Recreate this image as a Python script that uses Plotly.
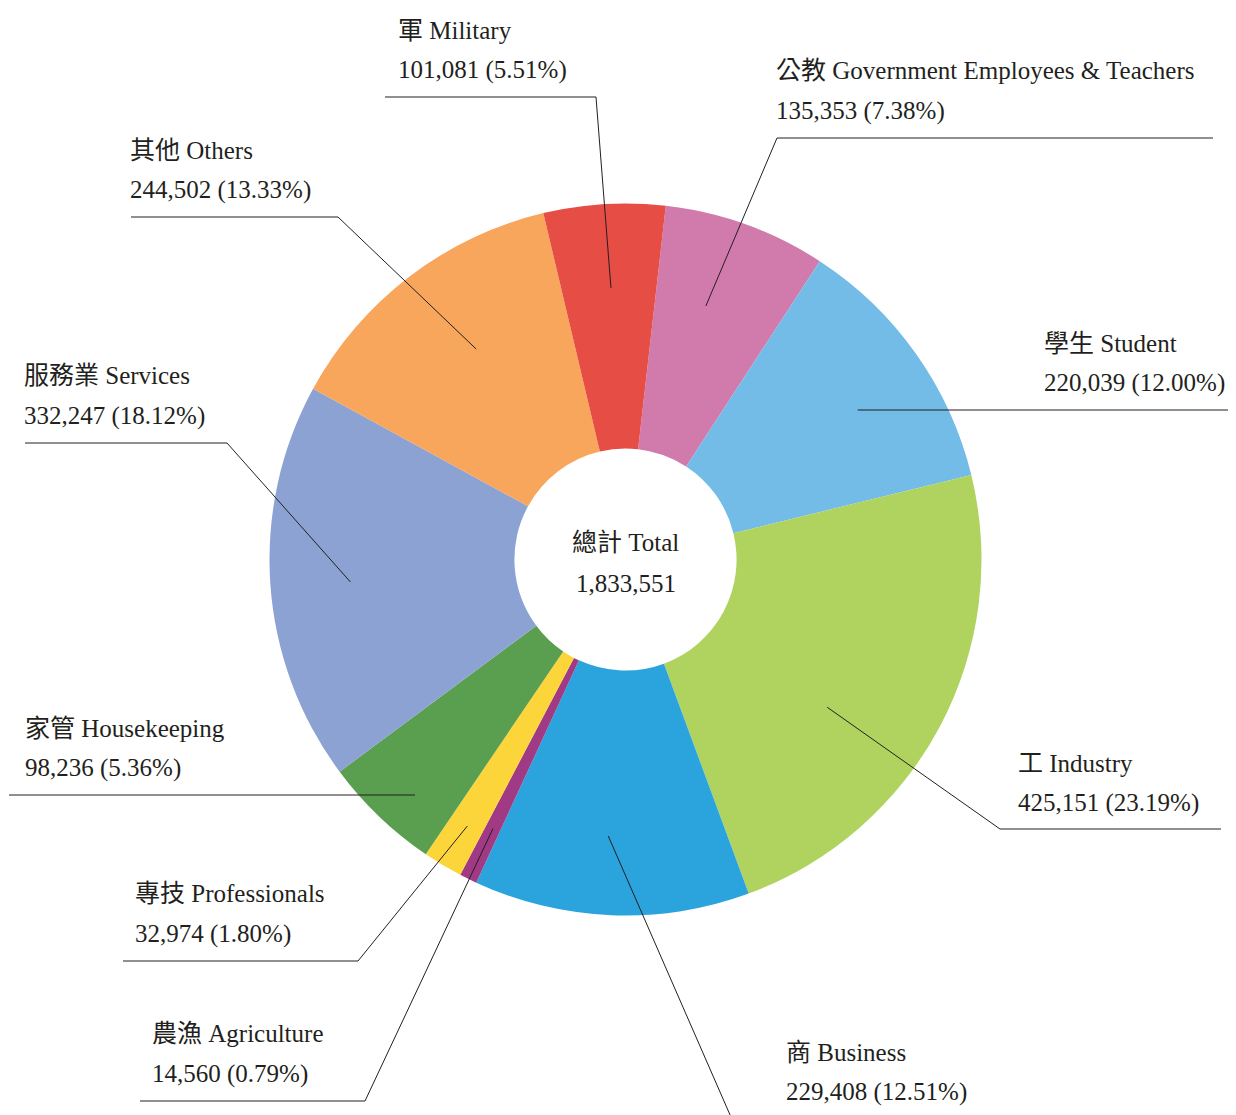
import math
import plotly.graph_objects as go

# ---- data (clockwise from the top) ----
labels_zh = ["公教", "學生", "工", "商", "農漁", "專技", "家管", "服務業", "其他", "軍"]
labels_en = ["Government Employees & Teachers", "Student", "Industry", "Business",
             "Agriculture", "Professionals", "Housekeeping", "Services", "Others", "Military"]
values = [135353, 220039, 425151, 229408, 14560, 32974, 98236, 332247, 244502, 101081]
colors = ["#D17BAD", "#72BCE7", "#B0D35F", "#2BA3DD", "#A03A84",
          "#FCD53B", "#5A9E4F", "#8BA2D3", "#F7A65B", "#E54D45"]
center_title = "總計 Total"

# ---- layout (pixels, page coordinates) ----
W, H = 1236, 1115
PAGE = 8  # default body margin of the page
CX, CY, R = 625.5, 559.5, 356
HOLE = 0.312
ROTATION = 6.5
FONT = "Liberation Serif, Noto Sans CJK TC, serif"
FS = 25
TXT = "#231F20"
TEXT_DX = -3  # annotation padding compensation

# label layout: text left x, line1 y, line2 y, underline y, underline x0, x1,
# knee x (where leader starts), inner angle offset (deg), inner radius
label_layout = [
    dict(x=777, y1=71, y2=111, uy=138, ux0=777, ux1=1213, knee=777, da=-2.2, r=266),
    dict(x=1045, y1=343, y2=383, uy=410, ux0=None, ux1=1240, knee=None, da=2.6, r=276),
    dict(x=1019, y1=763, y2=803, uy=829, ux0=1000, ux1=1221, knee=1000, da=8.2, r=250),
    dict(x=787, y1=1052, y2=1092, uy=1124, ux0=734, ux1=1000, knee=734, da=1.3, r=277),
    dict(x=153, y1=1033, y2=1074, uy=1101, ux0=140, ux1=365, knee=365, da=0.0, r=300),
    dict(x=136, y1=893, y2=934, uy=961, ux0=123, ux1=358, knee=358, da=-0.2, r=310),
    dict(x=26, y1=728, y2=768, uy=795, ux0=9, ux1=None, knee=None, da=-2.0, r=316),
    dict(x=25, y1=375, y2=416, uy=443, ux0=25, ux1=227, knee=227, da=-0.7, r=276),
    dict(x=131, y1=150, y2=190, uy=217, ux0=131, ux1=338, knee=338, da=2.0, r=258),
    dict(x=399, y1=30, y2=70, uy=97, ux0=385, ux1=596, knee=596, da=0.36, r=272),
]


def px(x):
    return (x - PAGE) / W


def py(y):
    return 1 - (y - PAGE) / H


total = sum(values)

fig = go.Figure(go.Pie(
    values=values,
    labels=[f"{a} {b}" for a, b in zip(labels_zh, labels_en)],
    marker=dict(colors=colors, line=dict(width=0)),
    hole=HOLE,
    sort=False,
    direction="clockwise",
    rotation=ROTATION,
    textinfo="none",
    hoverinfo="label+value+percent",
    domain=dict(x=[px(CX - R), px(CX + R)], y=[py(CY + R), py(CY - R)]),
    showlegend=False,
))

annotations = []
shapes = []
cum = 0.0
for i, v in enumerate(values):
    a0 = ROTATION + cum / total * 360
    cum += v
    a1 = ROTATION + cum / total * 360
    mid = (a0 + a1) / 2
    L = label_layout[i]
    ang = math.radians(mid + L["da"])
    ix = CX + L["r"] * math.sin(ang)
    iy = CY - L["r"] * math.cos(ang)

    pct = v / total * 100
    for yy, txt in ((L["y1"], f"{labels_zh[i]} {labels_en[i]}"),
                    (L["y2"], f"{v:,} ({pct:.2f}%)")):
        annotations.append(dict(
            x=px(L["x"] + TEXT_DX), y=py(yy), xref="paper", yref="paper",
            xanchor="left", yanchor="middle", showarrow=False, text=txt,
            font=dict(family=FONT, size=FS, color=TXT)))

    ux0 = L["ux0"] if L["ux0"] is not None else ix
    ux1 = L["ux1"] if L["ux1"] is not None else ix
    line_style = dict(color=TXT, width=1)
    shapes.append(dict(type="line", xref="paper", yref="paper",
                       x0=px(ux0), y0=py(L["uy"]), x1=px(ux1), y1=py(L["uy"]),
                       line=line_style))
    if L["knee"] is not None:
        shapes.append(dict(type="line", xref="paper", yref="paper",
                           x0=px(L["knee"]), y0=py(L["uy"]), x1=px(ix), y1=py(iy),
                           line=line_style))

annotations.append(dict(x=px(CX), y=py(542), xref="paper", yref="paper",
                        xanchor="center", yanchor="middle", showarrow=False,
                        text=center_title, font=dict(family=FONT, size=FS, color=TXT)))
annotations.append(dict(x=px(CX), y=py(583), xref="paper", yref="paper",
                        xanchor="center", yanchor="middle", showarrow=False,
                        text=f"{total:,}", font=dict(family=FONT, size=FS, color=TXT)))

fig.update_layout(
    width=W, height=H,
    margin=dict(l=0, r=0, t=0, b=0),
    paper_bgcolor="white", plot_bgcolor="white",
    annotations=annotations, shapes=shapes,
)

fig.write_html("out.html")
